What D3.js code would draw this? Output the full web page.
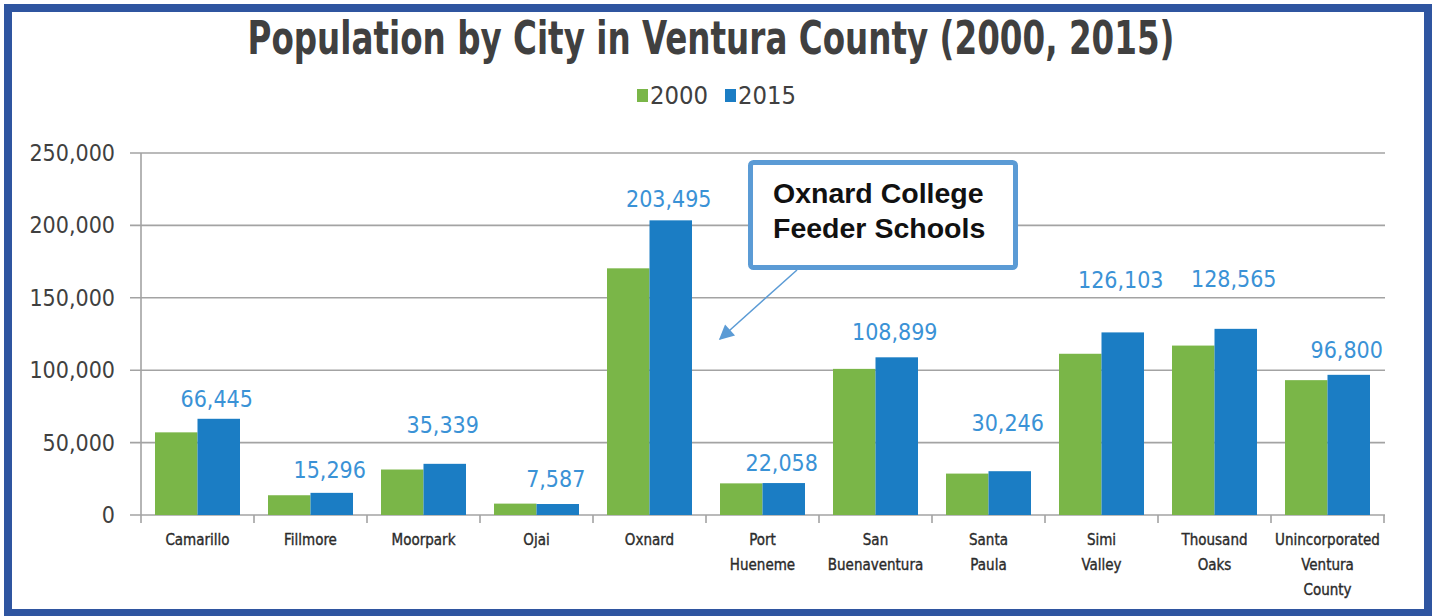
<!DOCTYPE html>
<html>
<head>
<meta charset="utf-8">
<script src="https://cdn.jsdelivr.net/npm/d3@7"></script>
<style>
  html, body { margin: 0; padding: 0; background: #fff; }
  svg { display: block; }
</style>
</head>
<body>
<div id="chart"></div>
<script>
// --------------- Data ---------------
const CITIES = [
  ["Camarillo"],
  ["Fillmore"],
  ["Moorpark"],
  ["Ojai"],
  ["Oxnard"],
  ["Port", "Hueneme"],
  ["San", "Buenaventura"],
  ["Santa", "Paula"],
  ["Simi", "Valley"],
  ["Thousand", "Oaks"],
  ["Unincorporated", "Ventura", "County"],
];
const POP_2000 = [57077, 13643, 31415, 7862, 170358, 21845, 100916, 28598, 111351, 117005, 93127];
const POP_2015 = [66445, 15296, 35339, 7587, 203495, 22058, 108899, 30246, 126103, 128565, 96800];
const SERIES = ["2000", "2015"];
const Y_TICKS = [0, 50000, 100000, 150000, 200000, 250000];

// --------------- Constants ---------------
const WIDTH = 1435;
const HEIGHT = 616;
const PLOT = { left: 141, right: 1384, top: 153, bottom: 515 };
// how far each 2015 label sits above its bar (placed by hand in the original)
const LABEL_LIFT = [12, 15, 31, 17, 13, 12, 17, 40, 44, 42, 17];
const COLORS = { "2000": "#7ab648", "2015": "#1b7dc4" };
const LABEL_BLUE = "#3a92d6";
const TEXT_GRAY = "#404040";
const GRID_GRAY = "#a3a3a3";
const CONDENSED = "'DejaVu Sans Condensed', 'DejaVu Sans', sans-serif";

const data = CITIES.map((lines, i) => ({
  key: lines.join(" "),
  lines,
  lift: LABEL_LIFT[i],
  values: { "2000": POP_2000[i], "2015": POP_2015[i] },
}));

const svg = d3
  .select("#chart")
  .append("svg")
  .attr("width", WIDTH)
  .attr("height", HEIGHT);

svg.append("rect").attr("width", WIDTH).attr("height", HEIGHT).attr("fill", "#fff");

// Scales
const X_SCALE = d3
  .scaleBand()
  .domain(data.map((d) => d.key))
  .range([PLOT.left, PLOT.right])
  .padding(0);

const X_SUB = d3
  .scaleBand()
  .domain(SERIES)
  .range([14, X_SCALE.bandwidth() - 14])
  .padding(0);

const Y_SCALE = d3.scaleLinear().domain([0, 250000]).range([PLOT.bottom, PLOT.top]);

// Gridlines (extend left of the axis as ticks)
svg
  .append("g")
  .selectAll("line")
  .data(Y_TICKS)
  .enter()
  .append("line")
  .attr("x1", PLOT.left - 11)
  .attr("x2", PLOT.right + 1)
  .attr("y1", (d) => Y_SCALE(d))
  .attr("y2", (d) => Y_SCALE(d))
  .attr("stroke", GRID_GRAY)
  .attr("stroke-width", 1.6);

// Y axis line
svg
  .append("line")
  .attr("x1", PLOT.left)
  .attr("x2", PLOT.left)
  .attr("y1", Y_SCALE(250000))
  .attr("y2", PLOT.bottom + 8)
  .attr("stroke", GRID_GRAY)
  .attr("stroke-width", 1.6);

// Y tick labels
svg
  .append("g")
  .selectAll("text")
  .data(Y_TICKS)
  .enter()
  .append("text")
  .attr("x", 115)
  .attr("y", (d) => Y_SCALE(d) + 8)
  .attr("text-anchor", "end")
  .attr("font-family", CONDENSED)
  .attr("font-size", "23px")
  .attr("fill", TEXT_GRAY)
  .text((d) => d3.format(",")(d));

// X tick marks at band boundaries
svg
  .append("g")
  .selectAll("line")
  .data(data.slice(1).map((d) => X_SCALE(d.key)).concat([PLOT.right]))
  .enter()
  .append("line")
  .attr("x1", (d) => d)
  .attr("x2", (d) => d)
  .attr("y1", PLOT.bottom)
  .attr("y2", PLOT.bottom + 8)
  .attr("stroke", GRID_GRAY)
  .attr("stroke-width", 1.6);

// Bars
const groups = svg
  .append("g")
  .selectAll("g")
  .data(data)
  .enter()
  .append("g")
  .attr("transform", (d) => `translate(${X_SCALE(d.key)},0)`);

groups
  .selectAll("rect")
  .data((d) => SERIES.map((s) => ({ series: s, value: d.values[s] })))
  .enter()
  .append("rect")
  .attr("x", (d) => X_SUB(d.series))
  .attr("y", (d) => Y_SCALE(d.value))
  .attr("width", X_SUB.bandwidth())
  .attr("height", (d) => PLOT.bottom - Y_SCALE(d.value))
  .attr("fill", (d) => COLORS[d.series]);

// Value labels for 2015
groups
  .append("text")
  .attr("x", X_SUB("2015") + X_SUB.bandwidth() / 2 - 2)
  .attr("y", (d) => Y_SCALE(d.values["2015"]) - d.lift)
  .attr("text-anchor", "middle")
  .attr("font-family", CONDENSED)
  .attr("font-size", "23px")
  .attr("fill", LABEL_BLUE)
  .text((d) => d3.format(",")(d.values["2015"]));

// Category labels
groups
  .append("text")
  .attr("text-anchor", "middle")
  .attr("font-family", CONDENSED)
  .attr("font-size", "15px")
  .attr("fill", "#2b2b2b")
  .attr("stroke", "#2b2b2b")
  .attr("stroke-width", 0.35)
  .selectAll("tspan")
  .data((d) => d.lines)
  .enter()
  .append("tspan")
  .attr("x", X_SCALE.bandwidth() / 2)
  .attr("y", (_d, i) => 545 + i * 25)
  .text((d) => d);

// Title
svg
  .append("text")
  .attr("x", 711)
  .attr("y", 54)
  .attr("text-anchor", "middle")
  .attr("font-family", CONDENSED)
  .attr("font-weight", "bold")
  .attr("font-size", "46px")
  .attr("fill", TEXT_GRAY)
  .attr("textLength", 927)
  .attr("lengthAdjust", "spacingAndGlyphs")
  .text("Population by City in Ventura County (2000, 2015)");

// Legend
const legend = svg
  .append("g")
  .selectAll("g")
  .data(SERIES)
  .enter()
  .append("g")
  .attr("transform", (_d, i) => `translate(${637 + i * 88},0)`);

legend
  .append("rect")
  .attr("x", 0)
  .attr("y", 89)
  .attr("width", 11)
  .attr("height", 13)
  .attr("fill", (d) => COLORS[d]);

legend
  .append("text")
  .attr("x", 13)
  .attr("y", 104)
  .attr("font-family", CONDENSED)
  .attr("font-size", "24px")
  .attr("fill", TEXT_GRAY)
  .attr("textLength", 58)
  .attr("lengthAdjust", "spacingAndGlyphs")
  .text((d) => d);

// Annotation callout
const NOTE_BLUE = "#5b9bd5";
svg
  .append("defs")
  .append("marker")
  .attr("id", "arrow")
  .attr("markerUnits", "userSpaceOnUse")
  .attr("viewBox", "0 0 10 10")
  .attr("refX", 9)
  .attr("refY", 5)
  .attr("markerWidth", 18)
  .attr("markerHeight", 15)
  .attr("orient", "auto")
  .append("path")
  .attr("d", "M0,0 L10,5 L0,10 Z")
  .attr("fill", NOTE_BLUE);

svg
  .append("line")
  .attr("x1", 797)
  .attr("y1", 270)
  .attr("x2", 720)
  .attr("y2", 339)
  .attr("stroke", NOTE_BLUE)
  .attr("stroke-width", 1.5)
  .attr("marker-end", "url(#arrow)");

svg
  .append("rect")
  .attr("x", 750.5)
  .attr("y", 162.5)
  .attr("width", 265)
  .attr("height", 105)
  .attr("rx", 3)
  .attr("fill", "#fff")
  .attr("stroke", NOTE_BLUE)
  .attr("stroke-width", 5);

svg
  .append("text")
  .attr("font-family", "'Liberation Sans', Arial, sans-serif")
  .attr("font-weight", "bold")
  .attr("font-size", "28.5px")
  .attr("fill", "#111")
  .selectAll("tspan")
  .data(["Oxnard College", "Feeder Schools"])
  .enter()
  .append("tspan")
  .attr("x", 773)
  .attr("y", (_d, i) => 203 + i * 35)
  .text((d) => d);

// Outer frame
svg
  .append("rect")
  .attr("x", 8)
  .attr("y", 8)
  .attr("width", 1420)
  .attr("height", 605)
  .attr("fill", "none")
  .attr("stroke", "#2f55a0")
  .attr("stroke-width", 8);
</script>
</body>
</html>
